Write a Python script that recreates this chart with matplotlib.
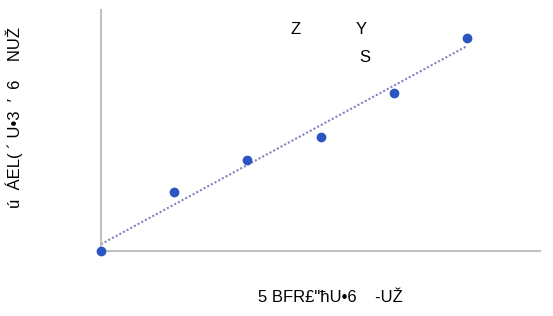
import numpy as np
import matplotlib.pyplot as plt

plt.rcParams['font.family'] = ['Liberation Sans', 'DejaVu Sans']

# data
x = [0, 1, 2, 3, 4, 5]
y = [0.0, 1.46, 2.27, 2.84, 3.94, 5.30]

x_label = '5 BFR£"ħU•6    -UŽ'
y_label = 'ú  ÁEL( ´ U•3  ′  6    NUŽ'
top_letters = ['Z', 'Y', 'S']

fig = plt.figure(figsize=(5.53, 3.16), dpi=100)
ax = fig.add_axes([101 / 553, 1 - 251 / 316, 439 / 553, 241 / 316])

# linear trend line through the points
k, b = np.polyfit(x, y, 1)
xt = np.array([0, 5])
ax.plot(xt, k * xt + b, linestyle=(0, (1, 1)), color='#8a80c0', linewidth=1.5)

ax.scatter(x, y, s=36, color='#2b55c0', zorder=3, clip_on=False)

ax.set_xlim(0, 6)
ax.set_ylim(0, 6)
ax.set_xticks([])
ax.set_yticks([])
for s in ['top', 'right']:
    ax.spines[s].set_visible(False)
for s in ['left', 'bottom']:
    ax.spines[s].set_color('#c4c0c0')
    ax.spines[s].set_linewidth(1.5)

fig.text(330 / 553, 1 - 297 / 316, x_label, ha='center', va='center', fontsize=12)
fig.text(14 / 553, 1 - 117 / 316, y_label, ha='center', va='center',
         rotation=90, fontsize=12)
fig.text(296 / 553, 1 - 30 / 316, top_letters[0], ha='center', va='center', fontsize=12)
fig.text(361 / 553, 1 - 30 / 316, top_letters[1], ha='center', va='center', fontsize=12)
fig.text(365 / 553, 1 - 57 / 316, top_letters[2], ha='center', va='center', fontsize=12)

fig.savefig('out.png', dpi=100)
